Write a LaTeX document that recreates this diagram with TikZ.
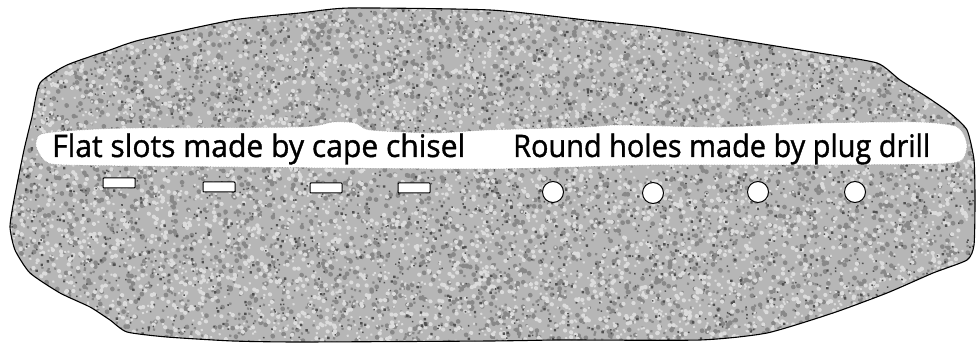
\documentclass[tikz,border=0pt]{standalone}
\usepackage{fontspec}
\setmainfont{Open Sans}
\newfontfamily\labelfont{Open Sans}[FakeBold=1.2]
\definecolor{granite}{RGB}{182,182,182}
\definecolor{gdark}{RGB}{80,80,80}
\definecolor{gmid}{RGB}{136,136,136}
\definecolor{glight}{RGB}{220,220,220}
\tikzset{
  slot/.style={draw=black, fill=white, line width=1pt, minimum width=32pt, minimum height=10pt, inner sep=0pt, rounded corners=0.8pt},
  hole/.style={draw=black, fill=white, line width=1pt, circle, minimum size=21pt, inner sep=0pt},
  label/.style={anchor=base west, inner sep=0pt, font=\labelfont\fontsize{31}{36}\selectfont, text=black},
  band/.style={fill=white, draw=gray!80, line width=0.6pt, densely dotted},
  outline/.style={draw=black, line width=1.1pt, line join=round},
  speck/.style={line cap=round}
}
\begin{document}
\begin{tikzpicture}[x=1pt,y=-1pt]
\useasboundingbox (0,0) rectangle (976,344);
\pgfmathsetseed{2718}
\begin{scope}
\clip plot[smooth cycle, tension=0.35] coordinates {
 (40,83) (67,65) (110,50) (140,40) (233,20) (300,13) (350,8) (490,10) (586,20) (653,27) (719,37) (819,53) (877,63) (900,80) (927,97) (950,113) (967,130) (974,160) (975,200) (974,245) (967,260) (933,273) (887,293) (833,313) (767,333) (700,340) (560,340) (490,341) (300,342) (233,341) (167,337) (127,332) (110,320) (90,307) (60,293) (30,273) (15,250) (10,227) (14,200) (24,150) (32,117)};
\fill[granite] (0,0) rectangle (976,344);
\draw[speck, gmid, line width=4.5pt] \foreach \i in {1,...,2500} {(rnd*976,rnd*344) -- ++(0.2,0.3)};
\draw[speck, gmid, line width=2.8pt] \foreach \i in {1,...,3000} {(rnd*976,rnd*344) -- ++(0.2,0.3)};
\draw[speck, glight, line width=4pt] \foreach \i in {1,...,2800} {(rnd*976,rnd*344) -- ++(0.3,0.2)};
\draw[speck, glight, line width=2.5pt] \foreach \i in {1,...,3200} {(rnd*976,rnd*344) -- ++(0.3,0.2)};
\draw[speck, gdark, line width=3pt] \foreach \i in {1,...,700} {(rnd*976,rnd*344) -- ++(0.3,0.3)};
\draw[speck, gdark, line width=1.8pt] \foreach \i in {1,...,1500} {(rnd*976,rnd*344) -- ++(0.3,0.3)};
\end{scope}
\draw[outline] plot[smooth cycle, tension=0.35] coordinates {
 (40,83) (67,65) (110,50) (140,40) (233,20) (300,13) (350,8) (490,10) (586,20) (653,27) (719,37) (819,53) (877,63) (900,80) (927,97) (950,113) (967,130) (974,160) (975,200) (974,245) (967,260) (933,273) (887,293) (833,313) (767,333) (700,340) (560,340) (490,341) (300,342) (233,341) (167,337) (127,332) (110,320) (90,307) (60,293) (30,273) (15,250) (10,227) (14,200) (24,150) (32,117)};
% white band
\path[band] plot[smooth cycle, tension=0.4] coordinates {
 (36,146) (41,134) (80,130) (133,128) (300,127) (333,122) (355,123) (370,130) (433,133) (488,130) (586,127) (619,125) (719,127) (819,123) (919,122) (955,126) (964,135) (967,147) (962,160) (940,164) (819,165) (653,165) (486,169) (233,167) (67,165) (45,161)};
\node[label] (t1) at (52,157) {\resizebox{413pt}{\height}{Flat slots made by cape chisel}};
\node[label] (t2) at (513,157) {\resizebox{417pt}{\height}{Round holes made by plug drill}};
% flat slots
\node[slot] (s1) at (119,183) {};
\node[slot] (s2) at (219,187) {};
\node[slot] (s3) at (326,188) {};
\node[slot] (s4) at (414,188) {};
% round holes
\node[hole] (h1) at (553,192) {};
\node[hole] (h2) at (653,193) {};
\node[hole] (h3) at (758,192) {};
\node[hole] (h4) at (855,192) {};
\end{tikzpicture}
\end{document}
